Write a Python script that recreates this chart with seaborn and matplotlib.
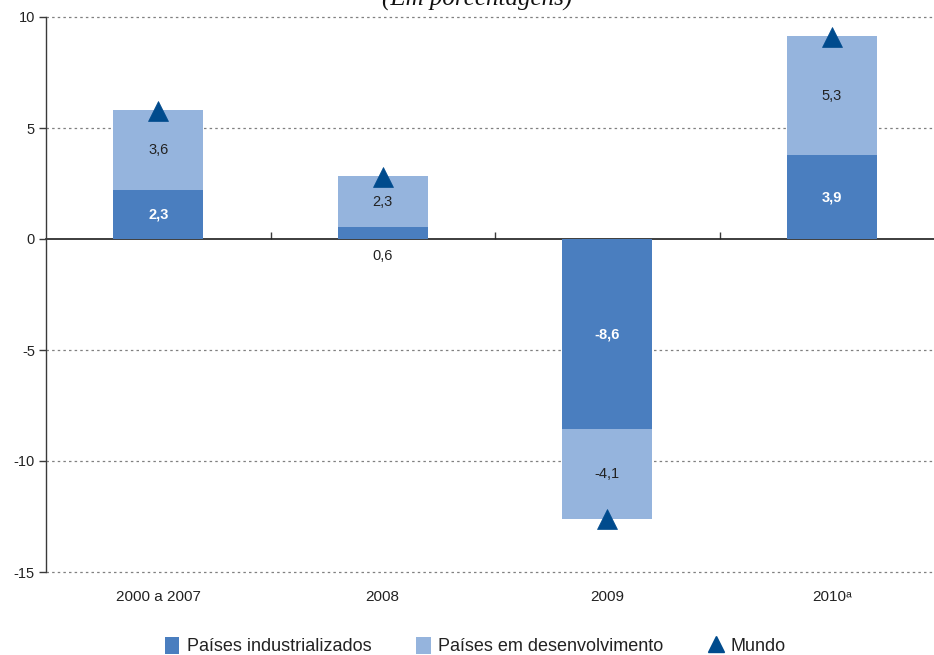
import matplotlib
matplotlib.use("Agg")
import matplotlib.pyplot as plt
import seaborn as sns
import numpy as np
from matplotlib.patches import Patch
from matplotlib.lines import Line2D

# ---- data ----
categories = ["2000 a 2007", "2008", "2009", "2010ᵃ"]
industrializados = [2.2, 0.52, -8.56, 3.78]
desenvolvimento = [3.6, 2.33, -4.07, 5.36]
mundo = [5.75, 2.8, -12.6, 9.1]
lbl_industrializados = ["2,3", "0,6", "-8,6", "3,9"]
lbl_desenvolvimento = ["3,6", "2,3", "-4,1", "5,3"]
yticks = [10, 5, 0, -5, -10, -15]

DARK = "#4a7ebf"
LIGHT = "#95b4dd"
NAVY = "#004b8d"
AXC = "#3a3a3a"

sns.set_theme(style="white")
plt.rcParams["font.family"] = ["Liberation Sans", "DejaVu Sans"]

fig = plt.figure(figsize=(9.34, 6.55), dpi=100)
ax = fig.add_axes([46 / 934, 1 - 572 / 655, 1 - 46 / 934, (572 - 17) / 655])

totals = [a + b for a, b in zip(industrializados, desenvolvimento)]
sns.barplot(x=categories, y=totals, color=LIGHT, saturation=1, width=0.4,
            linewidth=0, ax=ax)
sns.barplot(x=categories, y=industrializados, color=DARK, saturation=1, width=0.4,
            linewidth=0, ax=ax)
sns.pointplot(x=categories, y=mundo, color=NAVY, marker="^", linestyle="none",
              errorbar=None, markersize=14, markeredgewidth=0.5, ax=ax, zorder=5)

# value labels
for i, (d, l) in enumerate(zip(industrializados, desenvolvimento)):
    if abs(d) > 1:
        ax.text(i, d / 2, lbl_industrializados[i], ha="center", va="center",
                color="white", fontsize=10.5, fontweight="bold")
    else:
        ax.text(i, -0.75, lbl_industrializados[i], ha="center", va="center",
                color="#222222", fontsize=10.5)
    ax.text(i, d + l / 2, lbl_desenvolvimento[i], ha="center", va="center",
            color="#222222", fontsize=10.5)

ax.set_ylim(-15, 10)
ax.set_xlim(-0.5, (934 - 46) / 224.5 - 0.5)
ax.set_yticks(yticks)
ax.set_yticklabels([str(t) for t in yticks])
for t in yticks:
    if t != 0:
        ax.axhline(t, color="#808080", linestyle=(0, (2, 2.5)), linewidth=0.9,
                   zorder=0, clip_on=False)

ax.set_xlabel("")
ax.set_ylabel("")
for s in ["top", "right", "bottom"]:
    ax.spines[s].set_visible(False)
ax.spines["left"].set_color(AXC)
ax.spines["left"].set_linewidth(1.0)
ax.tick_params(axis="y", left=True, length=5, width=1, color=AXC, labelsize=10.5,
               labelcolor="#222222", pad=3)
ax.tick_params(axis="x", bottom=False, length=0, labelsize=11, labelcolor="#222222", pad=13)

# zero line with category separators
zero_frac = (0 - (-15)) / (10 - (-15))
sec = ax.secondary_xaxis(zero_frac)
sec.set_xticks([0.5, 1.5, 2.5])
sec.set_xticklabels(["", "", ""])
sec.tick_params(axis="x", length=5, width=1, color=AXC, direction="out")
sec.spines["bottom"].set_color(AXC)
sec.spines["bottom"].set_linewidth(1.2)

# subtitle (partially cut at top)
fig.text(477 / 934, 1 - 6 / 655, "(Em porcentagens)", ha="center", va="baseline",
         fontsize=18, fontstyle="italic", family="Liberation Serif", color="#111111")

handles = [Patch(facecolor=DARK, edgecolor="none"),
           Patch(facecolor=LIGHT, edgecolor="none"),
           Line2D([], [], marker="^", color=NAVY, linestyle="none", markersize=12)]
fig.legend(handles, ["Países industrializados", "Países em desenvolvimento", "Mundo"],
           loc="center", bbox_to_anchor=(475 / 934, 1 - 646 / 655), ncol=3, frameon=False,
           fontsize=13, handlelength=0.8, handleheight=1.1, handletextpad=0.4,
           columnspacing=2.5, labelcolor="#222222")

fig.savefig("out.png", dpi=100)
